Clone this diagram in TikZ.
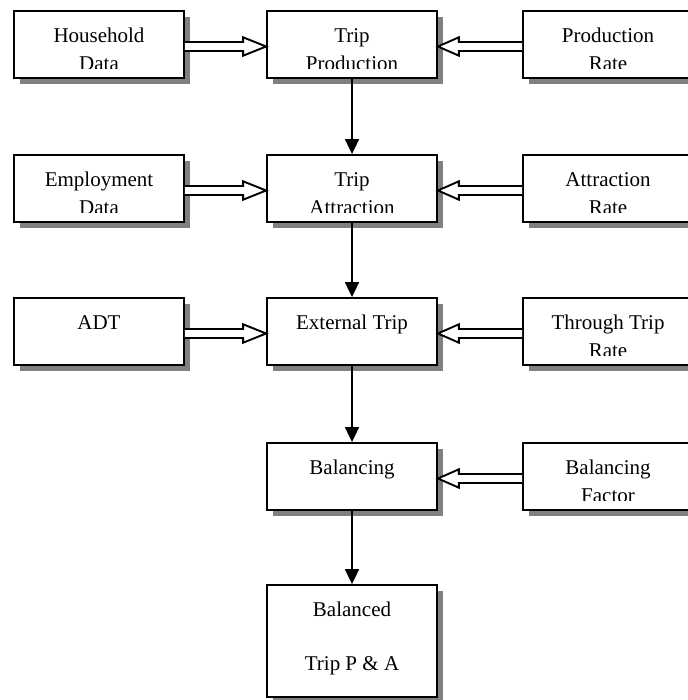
\documentclass[tikz,border=0pt]{standalone}
\usepackage{fontspec}
\setmainfont{Liberation Serif}
\usetikzlibrary{arrows.meta,shadows}
\newcommand\hollowR[2]{%
  \draw[hollow] ([yshift=2.5]#1.east) -- ([xshift=-23,yshift=2.5]#2.west)
    -- ([xshift=-23,yshift=7.2]#2.west) -- ([yshift=-2]#2.west)
    -- ([xshift=-23,yshift=-11.2]#2.west) -- ([xshift=-23,yshift=-6.5]#2.west)
    -- ([yshift=-6.5]#1.east);}
\newcommand\hollowL[2]{%
  \draw[hollow] ([yshift=2.5]#1.west) -- ([xshift=21,yshift=2.5]#2.east)
    -- ([xshift=21,yshift=7.2]#2.east) -- ([yshift=-2]#2.east)
    -- ([xshift=21,yshift=-11.2]#2.east) -- ([xshift=21,yshift=-6.5]#2.east)
    -- ([yshift=-6.5]#1.west);}
\newcommand\cliptext[3]{%
  \begin{scope}
    \clip ([yshift=10]#1.south west) rectangle (#1.north east);
    \node[txt] (#2) at ([yshift=-12.4]#1.north) {\strut #3};
  \end{scope}}
\begin{document}
\begin{tikzpicture}[x=1pt,y=1pt,
  box/.style={draw, line width=1.8pt, minimum width=170pt, minimum height=67pt,
    inner sep=0pt, fill=white,
    drop shadow={shadow xshift=6pt, shadow yshift=-6pt, fill=black!50, opacity=1}},
  txt/.style={font=\fontsize{21}{28}\selectfont, align=center, inner sep=0pt, anchor=north},
  down/.style={line width=1.8pt, -{Triangle[length=15pt,width=14pt]}},
  hollow/.style={line width=1.9pt, fill=white, line join=miter}]
\useasboundingbox (0,0) rectangle (687,700);

% row 1
\node[box] (hh) at (99,655.5) {};
\node[box] (tp) at (352,655.5) {};
\node[box] (pr) at (608,655.5) {};
% row 2
\node[box] (em) at (99,511.5) {};
\node[box] (ta) at (352,511.5) {};
\node[box] (ar) at (608,511.5) {};
% row 3
\node[box] (adt) at (99,368.5) {};
\node[box] (et) at (352,368.5) {};
\node[box] (tr) at (608,368.5) {};
% row 4
\node[box] (bal) at (352,223.5) {};
\node[box] (bf) at (608,223.5) {};
% row 5
\node[box, minimum height=112pt] (res) at (352,59) {};

% texts
\cliptext{hh}{hht}{Household\\Data}
\cliptext{tp}{tpt}{Trip\\Production}
\cliptext{pr}{prt}{Production\\Rate}
\cliptext{em}{emt}{Employment\\Data}
\cliptext{ta}{tat}{Trip\\Attraction}
\cliptext{ar}{art}{Attraction\\Rate}
\node[txt] (adtt) at ([yshift=-12.4]adt.north) {\strut ADT};
\node[txt] (ett) at ([yshift=-12.4]et.north) {\strut External Trip};
\cliptext{tr}{trt}{Through Trip\\Rate}
\node[txt] (balt) at ([yshift=-12.4]bal.north) {\strut Balancing};
\cliptext{bf}{bft}{Balancing\\Factor}
\node[txt] (rest) at ([yshift=-12.4]res.north) {\strut Balanced\\[26pt]Trip P \& A};

% hollow arrows
\hollowR{hh}{tp}
\hollowL{pr}{tp}
\hollowR{em}{ta}
\hollowL{ar}{ta}
\hollowR{adt}{et}
\hollowL{tr}{et}
\hollowL{bf}{bal}

% vertical arrows
\draw[down] (tp.south) -- (ta.north);
\draw[down] (ta.south) -- (et.north);
\draw[down] (et.south) -- (bal.north);
\draw[down] (bal.south) -- (res.north);
\end{tikzpicture}
\end{document}
